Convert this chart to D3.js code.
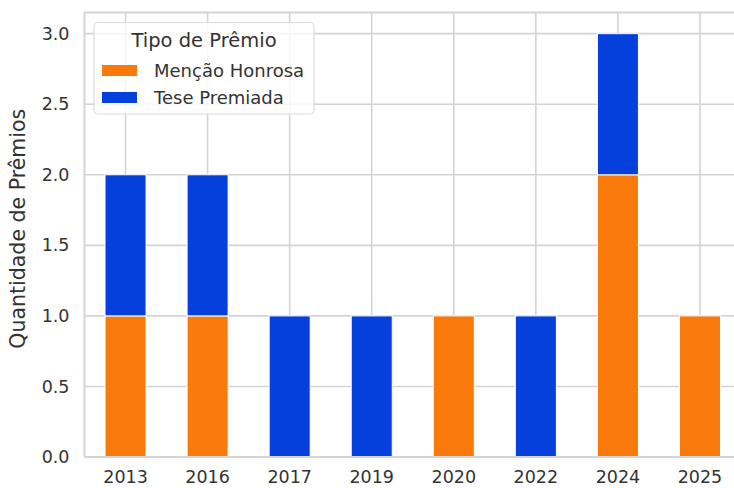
<!DOCTYPE html>
<html><head><meta charset="utf-8">
<script src="https://cdn.jsdelivr.net/npm/d3@7"></script>
<style>body{margin:0;background:#fff}svg{display:block;font-family:"DejaVu Sans",sans-serif}</style>
</head><body><svg id="c" width="734" height="488"></svg>
<script>
const years = ["2013","2016","2017","2019","2020","2022","2024","2025"];
const mencaoHonrosa = [1,1,0,0,1,0,2,1];
const tesePremiada = [1,1,1,1,0,1,1,0];
const seriesNames = ["Menção Honrosa","Tese Premiada"];
const colors = ["#f97a0a","#0540dd"];
const yTicks = [0,0.5,1,1.5,2,2.5,3];

const svg = d3.select("#c");
const L = 84.5, R = 741, T = 12.5, B = 457;
const x = d3.scaleBand().domain(years).range([L,R]).paddingInner(0.5).paddingOuter(0.25);
const y = d3.scaleLinear().domain([0,3.15]).range([B,T]);
const text = "#333333", grid = "#d4d4d4";

// grid
svg.append("g").selectAll("line").data(yTicks).join("line")
  .attr("x1",L).attr("x2",R).attr("y1",d=>y(d)).attr("y2",d=>y(d))
  .attr("stroke",grid).attr("stroke-width",1.6);
svg.append("g").selectAll("line").data(years).join("line")
  .attr("x1",d=>x(d)+x.bandwidth()/2).attr("x2",d=>x(d)+x.bandwidth()/2)
  .attr("y1",T).attr("y2",B).attr("stroke",grid).attr("stroke-width",1.6);

// stacked bars
const rows = years.map((yr,i)=>({year:yr, "Menção Honrosa":mencaoHonrosa[i], "Tese Premiada":tesePremiada[i]}));
const stack = d3.stack().keys(seriesNames)(rows);
svg.append("g").selectAll("g").data(stack).join("g")
  .attr("fill",(d,i)=>colors[i])
  .selectAll("rect").data(d=>d.filter(p=>p[1]-p[0]>0)).join("rect")
  .attr("x",d=>x(d.data.year)).attr("width",x.bandwidth())
  .attr("y",d=>y(d[1])).attr("height",d=>y(d[0])-y(d[1]))
  .attr("stroke","#fff").attr("stroke-width",1);

// spines
svg.append("line").attr("x1",L).attr("x2",L).attr("y1",T).attr("y2",B).attr("stroke",grid).attr("stroke-width",2);
svg.append("line").attr("x1",L).attr("x2",R).attr("y1",B).attr("y2",B).attr("stroke",grid).attr("stroke-width",2);
svg.append("line").attr("x1",L).attr("x2",R).attr("y1",T).attr("y2",T).attr("stroke",grid).attr("stroke-width",2);

// axes labels
const yAxis = d3.axisLeft(y).tickValues(yTicks).tickFormat(d3.format(".1f")).tickSize(0).tickPadding(15);
const gy = svg.append("g").attr("transform",`translate(${L},0)`).call(yAxis);
gy.select(".domain").remove();
gy.selectAll("text").attr("fill",text).style("font-size","17.5px").style("font-family","DejaVu Sans");

const xAxis = d3.axisBottom(x).tickSize(0).tickPadding(14);
const gx = svg.append("g").attr("transform",`translate(0,${B})`).call(xAxis);
gx.select(".domain").remove();
gx.selectAll("text").attr("fill",text).style("font-size","17.5px").style("font-family","DejaVu Sans");

svg.append("text").attr("transform",`translate(25,${(T+B)/2-6}) rotate(-90)`)
  .attr("text-anchor","middle").attr("fill",text).style("font-size","20.5px")
  .text("Quantidade de Prêmios");

// legend
const lg = svg.append("g");
lg.append("rect").attr("x",94).attr("y",22.5).attr("width",220).attr("height",91.5).attr("rx",4)
  .attr("fill","#fff").attr("fill-opacity",0.8).attr("stroke","#dddddd").attr("stroke-width",1.2);
lg.append("text").attr("x",204).attr("y",47).attr("text-anchor","middle").attr("fill",text)
  .style("font-size","19.5px").text("Tipo de Prêmio");
seriesNames.forEach((s,i)=>{
  const yy = 65 + i*27;
  lg.append("rect").attr("x",102).attr("y",yy).attr("width",35).attr("height",11).attr("fill",colors[i]);
  lg.append("text").attr("x",154).attr("y",yy+11.5).attr("fill",text).style("font-size","18px").text(s);
});
</script></body></html>
